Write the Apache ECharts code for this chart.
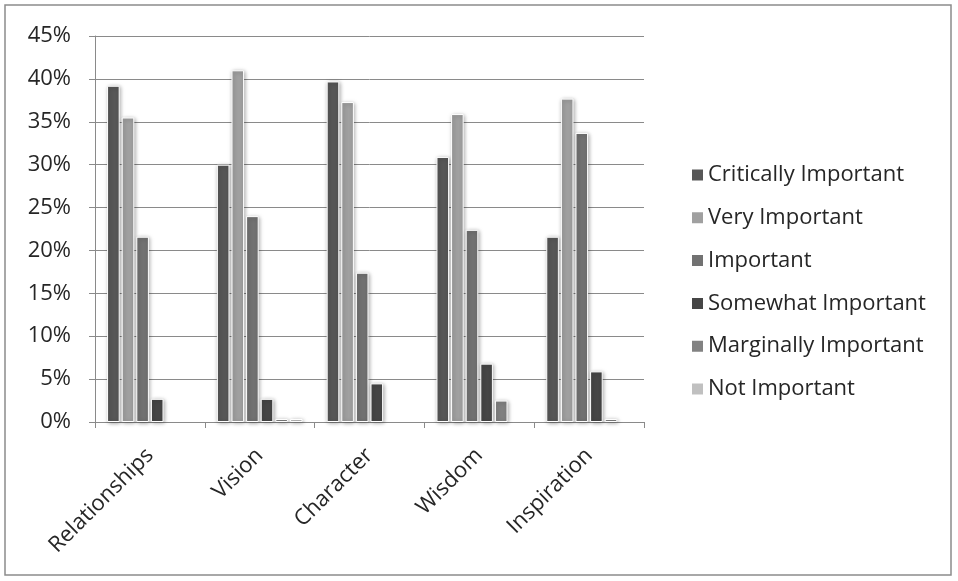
<!DOCTYPE html>
<html>
<head>
<meta charset="utf-8">
<script src="https://cdn.jsdelivr.net/npm/echarts@6/dist/echarts.min.js"></script>
<style>
  html, body { margin: 0; padding: 0; background: #fff; }
  #chart { width: 958px; height: 581px; }
</style>
</head>
<body>
<div id="chart"></div>
<script>
// Leadership qualities, share of respondents per importance rating (%)
const categories = ['Relationships', 'Vision', 'Character', 'Wisdom', 'Inspiration'];
const seriesNames = ['Critically Important', 'Very Important', 'Important', 'Somewhat Important', 'Marginally Important', 'Not Important'];
const criticallyImportant = [39.2, 30.0, 39.7, 30.9, 21.6];
const veryImportant       = [35.5, 41.0, 37.3, 35.9, 37.7];
const important           = [21.6, 24.0, 17.4, 22.4, 33.7];
const somewhatImportant   = [2.7, 2.7, 4.5, 6.8, 5.9];
const marginallyImportant = [0, 0.35, 0, 2.5, 0.35];
const notImportant        = [0, 0.35, 0, 0, 0];
const yTicks = { min: 0, max: 45, step: 5 };

const colors = ['#575757', '#a0a0a0', '#727272', '#464646', '#828282', '#c0c0c0'];
const values = [criticallyImportant, veryImportant, important, somewhatImportant, marginallyImportant, notImportant];
const font = 'Open Sans, Noto Sans, sans-serif';
const textColor = '#262626';

// Empty bars get no outline or shadow, so nothing shows for a 0% share
const barData = (arr) => arr.map(v => v === 0
  ? { value: v, itemStyle: { borderWidth: 0, shadowBlur: 0, shadowOffsetX: 0, shadowOffsetY: 0, opacity: 0 } }
  : v);

const chart = echarts.init(document.getElementById('chart'), null, { renderer: 'canvas' });
chart.setOption({
  animation: false,
  color: colors,
  graphic: [{
    type: 'rect',
    shape: { x: 5, y: 5, width: 946, height: 570 },
    style: { fill: 'none', stroke: '#8c8c8c', lineWidth: 1.5 },
    silent: true
  }],
  grid: { left: 95, right: 314, top: 36, bottom: 159 },
  legend: {
    orient: 'vertical',
    left: 685,
    top: 158,
    itemWidth: 13,
    itemHeight: 13,
    itemGap: 18.8,
    icon: 'rect',
    textStyle: { fontFamily: font, fontSize: 22, lineHeight: 24, color: textColor, padding: [0, 0, 0, -1] },
    data: seriesNames
  },
  xAxis: {
    type: 'category',
    data: categories,
    axisLine: { lineStyle: { color: '#8a8a8a', width: 1 } },
    axisTick: { show: true, length: 6, lineStyle: { color: '#8a8a8a' } },
    axisLabel: {
      rotate: 45,
      margin: 30,
      fontFamily: font,
      fontSize: 22,
      color: textColor
    }
  },
  yAxis: {
    type: 'value',
    min: yTicks.min,
    max: yTicks.max,
    interval: yTicks.step,
    axisLine: { show: true, lineStyle: { color: '#8a8a8a', width: 1 } },
    axisTick: { show: true, length: 6, lineStyle: { color: '#8a8a8a' } },
    splitLine: { lineStyle: { color: '#8a8a8a', width: 1 } },
    axisLabel: {
      formatter: '{value}%',
      margin: 24,
      fontFamily: font,
      fontSize: 22,
      color: textColor
    }
  },
  series: seriesNames.map((name, i) => ({
    name,
    type: 'bar',
    data: barData(values[i]),
    barGap: '16%',
    barCategoryGap: '22%',
    itemStyle: {
      color: colors[i],
      borderColor: '#ffffff',
      borderWidth: 1,
      shadowColor: 'rgba(0,0,0,0.35)',
      shadowBlur: 4,
      shadowOffsetX: 1,
      shadowOffsetY: 1
    }
  }))
});
</script>
</body>
</html>
